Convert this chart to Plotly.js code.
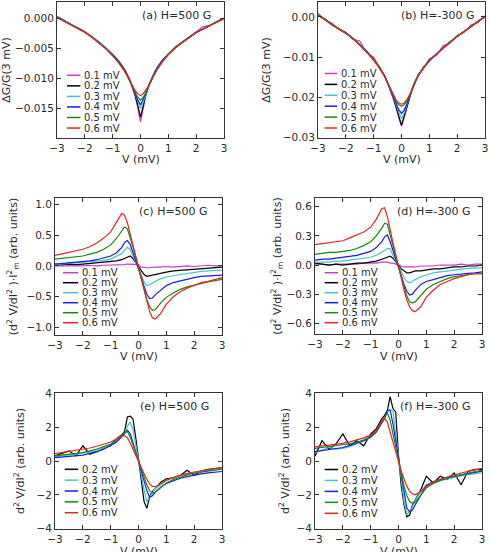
<!DOCTYPE html>
<html>
<head>
<meta charset="utf-8">
<script src="https://cdn.plot.ly/plotly-3.0.1.min.js"></script>
<style>html,body{margin:0;padding:0;background:#fff;}#chart{width:490px;height:552px;}</style>
</head>
<body>
<div id="chart"></div>
<script>
// Bias voltage grid (mV)
const V = [-3,-2.75,-2.5,-2.25,-2,-1.75,-1.5,-1.25,-1,-0.8,-0.6,-0.5,-0.4,-0.3,-0.2,-0.1,0,0.1,0.2,0.3,0.4,0.5,0.6,0.8,1,1.25,1.5,1.75,2,2.25,2.5,2.75,3];

const labels6 = ['0.1 mV','0.2 mV','0.3 mV','0.4 mV','0.5 mV','0.6 mV'];
const labels5 = ['0.2 mV','0.3 mV','0.4 mV','0.5 mV','0.6 mV'];
const panelTitles = ['(a) H=500 G','(b) H=-300 G','(c) H=500 G','(d) H=-300 G','(e) H=500 G','(f) H=-300 G'];
const xTitle = 'V (mV)';

// (a) ΔG/G(3 mV), H=500 G
const a_m = [0.0004,-0.0002,-0.0010,-0.0015,-0.0022,-0.0031,-0.0038,-0.0049,-0.0061,-0.0070,-0.0082,-0.0090,-0.0101,-0.0113,-0.0128,-0.0148,-0.0172,-0.0149,-0.0127,-0.0112,-0.0100,-0.0091,-0.0081,-0.0068,-0.0059,-0.0047,-0.0039,-0.0030,-0.0022,-0.0013,-0.0011,-0.0004,0.0001];
const a_k = [0.0003,-0.0003,-0.0010,-0.0016,-0.0022,-0.0030,-0.0039,-0.0049,-0.0060,-0.0070,-0.0083,-0.0091,-0.0101,-0.0112,-0.0126,-0.0144,-0.0164,-0.0145,-0.0125,-0.0111,-0.0100,-0.0090,-0.0082,-0.0069,-0.0059,-0.0048,-0.0039,-0.0031,-0.0023,-0.0017,-0.0011,-0.0005,0.0001];
const a_c = [0.0004,-0.0002,-0.0009,-0.0016,-0.0022,-0.0030,-0.0038,-0.0048,-0.0060,-0.0070,-0.0083,-0.0091,-0.0101,-0.0112,-0.0125,-0.0138,-0.0150,-0.0139,-0.0125,-0.0111,-0.0100,-0.0090,-0.0082,-0.0069,-0.0059,-0.0048,-0.0039,-0.0031,-0.0023,-0.0017,-0.0011,-0.0005,0.0001];
const a_b = [0.0003,-0.0003,-0.0010,-0.0016,-0.0022,-0.0030,-0.0039,-0.0049,-0.0060,-0.0070,-0.0083,-0.0091,-0.0101,-0.0112,-0.0124,-0.0135,-0.0144,-0.0135,-0.0124,-0.0111,-0.0100,-0.0090,-0.0082,-0.0069,-0.0059,-0.0048,-0.0039,-0.0031,-0.0023,-0.0017,-0.0011,-0.0005,0.0001];
const a_g = [0.0003,-0.0003,-0.0010,-0.0016,-0.0022,-0.0030,-0.0039,-0.0049,-0.0061,-0.0071,-0.0084,-0.0092,-0.0102,-0.0112,-0.0122,-0.0131,-0.0136,-0.0131,-0.0122,-0.0111,-0.0101,-0.0091,-0.0083,-0.0070,-0.0059,-0.0048,-0.0039,-0.0031,-0.0023,-0.0017,-0.0011,-0.0005,0.0001];
const a_r = [0.0002,-0.0004,-0.0011,-0.0017,-0.0023,-0.0031,-0.0040,-0.0050,-0.0062,-0.0073,-0.0086,-0.0094,-0.0103,-0.0112,-0.0119,-0.0125,-0.0128,-0.0125,-0.0119,-0.0111,-0.0102,-0.0093,-0.0085,-0.0071,-0.0060,-0.0049,-0.0040,-0.0031,-0.0023,-0.0017,-0.0011,-0.0005,0.0000];

// (b) ΔG/G(3 mV), H=-300 G
const b_m = [0.0009,-0.0008,-0.0016,-0.0031,-0.0038,-0.0056,-0.0060,-0.0089,-0.0100,-0.0126,-0.0145,-0.0164,-0.0182,-0.0200,-0.0223,-0.0250,-0.0272,-0.0250,-0.0222,-0.0198,-0.0175,-0.0161,-0.0143,-0.0128,-0.0104,-0.0096,-0.0072,-0.0065,-0.0046,-0.0039,-0.0020,-0.0014,0.0003];
const b_k = [0.0004,-0.0006,-0.0019,-0.0029,-0.0040,-0.0053,-0.0069,-0.0086,-0.0106,-0.0124,-0.0148,-0.0163,-0.0180,-0.0199,-0.0220,-0.0246,-0.0269,-0.0246,-0.0220,-0.0196,-0.0176,-0.0160,-0.0146,-0.0125,-0.0109,-0.0092,-0.0077,-0.0062,-0.0048,-0.0036,-0.0024,-0.0012,0.0001];
const b_c = [0.0004,-0.0007,-0.0019,-0.0029,-0.0041,-0.0053,-0.0069,-0.0086,-0.0106,-0.0124,-0.0148,-0.0163,-0.0180,-0.0199,-0.0218,-0.0238,-0.0253,-0.0238,-0.0216,-0.0196,-0.0176,-0.0160,-0.0146,-0.0125,-0.0109,-0.0092,-0.0077,-0.0062,-0.0048,-0.0036,-0.0024,-0.0012,0.0001];
const b_b = [0.0004,-0.0006,-0.0019,-0.0029,-0.0040,-0.0053,-0.0069,-0.0086,-0.0106,-0.0124,-0.0148,-0.0163,-0.0180,-0.0198,-0.0214,-0.0230,-0.0240,-0.0231,-0.0215,-0.0195,-0.0176,-0.0160,-0.0146,-0.0125,-0.0109,-0.0092,-0.0077,-0.0062,-0.0048,-0.0036,-0.0024,-0.0012,0.0001];
const b_g = [0.0004,-0.0006,-0.0019,-0.0029,-0.0040,-0.0053,-0.0069,-0.0086,-0.0106,-0.0124,-0.0148,-0.0163,-0.0180,-0.0196,-0.0208,-0.0218,-0.0222,-0.0218,-0.0208,-0.0194,-0.0176,-0.0160,-0.0146,-0.0125,-0.0109,-0.0092,-0.0077,-0.0062,-0.0048,-0.0036,-0.0024,-0.0012,0.0001];
const b_r = [0.0003,-0.0007,-0.0020,-0.0030,-0.0041,-0.0054,-0.0070,-0.0088,-0.0108,-0.0127,-0.0150,-0.0164,-0.0180,-0.0195,-0.0206,-0.0214,-0.0217,-0.0214,-0.0205,-0.0192,-0.0176,-0.0162,-0.0147,-0.0126,-0.0110,-0.0093,-0.0078,-0.0063,-0.0049,-0.0037,-0.0025,-0.0013,0.0000];

// (c) (d²V/dI²)·Im², H=500 G
const c_m = [0.00,0.00,-0.01,0.00,0.00,0.01,0.00,0.01,0.01,0.02,0.02,0.02,0.03,0.03,0.03,0.03,0.02,-0.02,-0.03,-0.03,-0.03,-0.02,-0.02,-0.02,-0.01,-0.02,-0.01,0.00,-0.01,0.00,0.01,0.00,0.00];
const c_k = [0.03,0.02,0.03,0.02,0.03,0.04,0.04,0.05,0.06,0.08,0.10,0.12,0.14,0.16,0.12,0.06,0.00,-0.08,-0.14,-0.17,-0.16,-0.14,-0.13,-0.11,-0.10,-0.08,-0.07,-0.06,-0.05,-0.04,-0.03,-0.03,-0.02];
const c_c = [0.02,0.03,0.03,0.04,0.05,0.06,0.07,0.09,0.11,0.15,0.20,0.25,0.30,0.27,0.17,0.07,-0.03,-0.15,-0.26,-0.32,-0.31,-0.28,-0.25,-0.21,-0.18,-0.16,-0.14,-0.12,-0.10,-0.09,-0.08,-0.07,-0.07];
const c_b = [0.03,0.04,0.04,0.05,0.06,0.08,0.10,0.13,0.16,0.21,0.30,0.38,0.41,0.35,0.22,0.09,-0.03,-0.18,-0.33,-0.46,-0.53,-0.52,-0.47,-0.39,-0.32,-0.27,-0.24,-0.21,-0.19,-0.17,-0.16,-0.15,-0.15];
const c_g = [0.11,0.12,0.14,0.15,0.16,0.19,0.22,0.27,0.34,0.44,0.56,0.63,0.60,0.47,0.31,0.14,-0.02,-0.20,-0.38,-0.55,-0.66,-0.72,-0.71,-0.60,-0.51,-0.44,-0.38,-0.34,-0.31,-0.28,-0.26,-0.24,-0.22];
const c_r = [0.17,0.20,0.22,0.245,0.27,0.31,0.37,0.45,0.55,0.70,0.85,0.82,0.70,0.52,0.34,0.16,-0.02,-0.21,-0.40,-0.58,-0.74,-0.84,-0.86,-0.77,-0.62,-0.50,-0.42,-0.36,-0.31,-0.27,-0.25,-0.22,-0.19];

// (d) (d²V/dI²)·Im², H=-300 G
const d_m = [0.01,0.01,0.00,0.01,0.01,0.01,0.01,0.02,0.02,0.02,0.03,0.03,0.03,0.02,0.02,0.01,0.00,-0.01,-0.02,-0.02,-0.02,-0.02,-0.02,-0.01,-0.01,-0.01,0.00,0.00,0.00,0.01,0.00,0.01,0.01];
const d_k = [0.02,0.01,0.00,0.01,0.00,0.01,0.02,0.02,0.03,0.04,0.06,0.07,0.08,0.09,0.07,0.04,0.00,-0.04,-0.06,-0.08,-0.08,-0.07,-0.06,-0.06,-0.05,-0.04,-0.04,-0.03,-0.02,-0.02,-0.01,-0.01,0.00];
const d_c = [0.03,0.03,0.03,0.04,0.04,0.05,0.06,0.07,0.08,0.10,0.13,0.15,0.17,0.17,0.10,0.05,-0.01,-0.07,-0.13,-0.17,-0.18,-0.17,-0.15,-0.12,-0.10,-0.08,-0.07,-0.06,-0.05,-0.04,-0.035,-0.03,-0.03];
const d_b = [0.05,0.06,0.06,0.07,0.075,0.09,0.10,0.12,0.14,0.18,0.24,0.29,0.31,0.24,0.15,0.07,-0.01,-0.10,-0.20,-0.27,-0.31,-0.30,-0.26,-0.20,-0.17,-0.15,-0.13,-0.11,-0.10,-0.09,-0.085,-0.08,-0.07];
const d_g = [0.11,0.12,0.13,0.13,0.14,0.15,0.17,0.20,0.24,0.30,0.38,0.43,0.42,0.30,0.19,0.09,-0.01,-0.12,-0.24,-0.32,-0.38,-0.39,-0.38,-0.31,-0.25,-0.20,-0.17,-0.14,-0.12,-0.11,-0.10,-0.09,-0.09];
const d_r = [0.21,0.22,0.23,0.24,0.25,0.28,0.31,0.34,0.39,0.47,0.58,0.59,0.50,0.35,0.23,0.11,-0.02,-0.14,-0.26,-0.36,-0.43,-0.47,-0.48,-0.43,-0.33,-0.26,-0.20,-0.17,-0.14,-0.12,-0.10,-0.09,-0.09];

// (e) d²V/dI², H=500 G
const e_k = [0.30,0.45,0.60,0.30,0.90,0.40,0.55,0.75,0.90,1.30,1.55,1.75,2.60,2.65,2.50,1.40,0.10,-1.20,-2.40,-2.80,-2.10,-1.80,-1.65,-1.25,-1.05,-1.00,-0.85,-0.55,-0.85,-0.60,-0.50,-0.45,-0.40];
const e_c = [0.25,0.30,0.35,0.40,0.45,0.52,0.60,0.75,0.95,1.12,1.40,1.62,2.05,2.30,1.85,0.95,0.10,-0.80,-1.70,-2.40,-2.12,-1.82,-1.62,-1.40,-1.15,-1.00,-0.86,-0.78,-0.70,-0.62,-0.55,-0.50,-0.45];
const e_b = [0.20,0.24,0.28,0.31,0.35,0.45,0.55,0.70,0.90,1.10,1.45,1.65,1.82,1.62,1.12,0.56,0.00,-0.60,-1.20,-1.75,-2.15,-2.05,-1.85,-1.55,-1.32,-1.15,-1.02,-0.92,-0.83,-0.76,-0.70,-0.66,-0.62];
const e_g = [0.30,0.35,0.40,0.45,0.50,0.60,0.70,0.85,1.00,1.22,1.55,1.72,1.74,1.42,0.97,0.50,0.00,-0.50,-0.97,-1.42,-1.75,-1.90,-1.85,-1.55,-1.30,-1.10,-0.95,-0.82,-0.72,-0.65,-0.58,-0.52,-0.48];
const e_r = [0.44,0.50,0.56,0.61,0.67,0.77,0.87,0.98,1.12,1.30,1.50,1.50,1.38,1.08,0.70,0.32,-0.05,-0.40,-0.75,-1.08,-1.35,-1.50,-1.52,-1.34,-1.14,-0.97,-0.84,-0.73,-0.65,-0.58,-0.50,-0.44,-0.38];

// (f) d²V/dI², H=-300 G
const f_k = [0.30,1.20,0.70,1.00,1.60,0.90,1.20,0.90,1.60,1.90,2.50,2.70,3.00,3.80,3.10,2.90,0.30,-1.50,-2.60,-3.30,-3.20,-2.60,-2.30,-1.70,-0.90,-1.30,-0.90,-1.10,-0.70,-1.40,-0.60,-0.50,-0.50];
const f_c = [0.50,0.65,0.80,0.70,0.75,0.85,1.00,1.18,1.40,1.70,2.30,2.50,2.90,3.05,2.95,1.60,0.30,-1.20,-2.40,-3.15,-3.00,-2.70,-2.30,-1.80,-1.40,-1.25,-1.15,-1.05,-0.95,-0.88,-0.80,-0.75,-0.70];
const f_b = [0.55,0.62,0.68,0.74,0.80,0.92,1.05,1.20,1.40,1.70,2.25,2.50,3.00,3.00,2.20,1.20,0.10,-1.00,-2.00,-2.80,-3.00,-2.90,-2.60,-2.00,-1.45,-1.25,-1.10,-1.00,-0.90,-0.82,-0.75,-0.68,-0.60];
const f_g = [0.75,0.80,0.85,0.90,0.95,1.02,1.10,1.25,1.45,1.75,2.35,2.60,2.85,2.40,1.60,0.80,0.00,-0.80,-1.50,-2.05,-2.40,-2.50,-2.45,-2.00,-1.60,-1.33,-1.15,-1.00,-0.90,-0.80,-0.70,-0.62,-0.55];
const f_r = [0.84,0.88,0.93,0.98,1.04,1.13,1.24,1.37,1.53,1.80,2.35,2.50,2.30,1.75,1.15,0.55,-0.04,-0.62,-1.10,-1.50,-1.78,-1.94,-2.00,-1.80,-1.50,-1.25,-1.08,-0.94,-0.82,-0.71,-0.60,-0.52,-0.43];

const col6 = ['#c83cc8','#000000','#3cc8c8','#1a1aee','#138a13','#ee2020'];
const col5 = col6.slice(1);

const panels = [
  {series:[a_m,a_k,a_c,a_b,a_g,a_r], labels:labels6, colors:col6},
  {series:[b_m,b_k,b_c,b_b,b_g,b_r], labels:labels6, colors:col6},
  {series:[c_m,c_k,c_c,c_b,c_g,c_r], labels:labels6, colors:col6},
  {series:[d_m,d_k,d_c,d_b,d_g,d_r], labels:labels6, colors:col6},
  {series:[e_k,e_c,e_b,e_g,e_r], labels:labels5, colors:col5},
  {series:[f_k,f_c,f_b,f_g,f_r], labels:labels5, colors:col5}
];

// layout geometry (pixels in a 490x552 page)
const W = 490, H = 552;
const boxes = [
  {l:57, r:224, t:2, b:138},
  {l:318, r:485, t:2, b:138},
  {l:55, r:222, t:198, b:335},
  {l:315, r:482, t:198, b:334},
  {l:55, r:222, t:393, b:529},
  {l:315, r:482, t:393, b:529}
];
const xTitleY = [160, 160, 356.5, 356.5, 551, 551];
const yRanges = [[-0.0199,0.0028],[-0.0301,0.0037],[-1.12,1.1],[-0.71,0.69],[-4.02,4.02],[-4.02,4.02]];
const yTicks = [[0,-0.005,-0.01,-0.015],[0,-0.01,-0.02,-0.03],[1,0.5,0,-0.5,-1],[0.6,0.3,0,-0.3,-0.6],[4,2,0,-2,-4],[4,2,0,-2,-4]];
const yFormats = ['.3f','.2f','.1f','.1f','d','d'];
const yTitles = ['ΔG/G(3 mV)','ΔG/G(3 mV)',
  '(d<sup>2</sup> V/dI<sup>2</sup> )·I<sup>2</sup><sub>m</sub> (arb. units)',
  '(d<sup>2</sup> V/dI<sup>2</sup> )·I<sup>2</sup><sub>m</sub> (arb. units)',
  'd<sup>2</sup> V/dI<sup>2</sup> (arb. units)','d<sup>2</sup> V/dI<sup>2</sup> (arb. units)'];
const yStandoff = [3,9,6,2,9,4];
const titleRight = [0.934,0.95,0.928,0.946,0.932,0.938];
const legendGeom = [
  {x0:0.06, x1:0.14, xt:0.15, y0:75.3, dy:10.55},
  {x0:0.04, x1:0.115, xt:0.125, y0:73.5, dy:10.9},
  {x0:0.048, x1:0.138, xt:0.148, y0:272.7, dy:10.0},
  {x0:0.058, x1:0.138, xt:0.148, y0:272.7, dy:10.0},
  {x0:0.058, x1:0.138, xt:0.148, y0:469.3, dy:10.85},
  {x0:0.058, x1:0.138, xt:0.148, y0:469.5, dy:10.95}
];

const FONT = 'DejaVu Sans, Liberation Sans, sans-serif';
const TXT = '#2a2a2a';
const traces = [];
const layout = {
  width: W, height: H,
  margin: {l:0, r:0, t:0, b:0},
  paper_bgcolor: '#fff', plot_bgcolor: '#fff',
  showlegend: false,
  font: {family: FONT, size: 11, color: TXT},
  shapes: [], annotations: []
};

panels.forEach((p, i) => {
  const n = i + 1;
  const xa = 'x' + (n === 1 ? '' : n), ya = 'y' + (n === 1 ? '' : n);
  const xk = 'xaxis' + (n === 1 ? '' : n), yk = 'yaxis' + (n === 1 ? '' : n);
  const bx = boxes[i];
  p.series.forEach((ys, j) => {
    traces.push({x: V, y: ys, xaxis: xa, yaxis: ya, type: 'scatter', mode: 'lines',
      name: p.labels[j], line: {color: p.colors[j], width: 1.2}, hoverinfo: 'skip'});
  });
  const common = {
    showline: true, mirror: 'ticks', linecolor: '#333', linewidth: 1,
    ticks: 'inside', ticklen: 4, tickwidth: 1, tickcolor: '#333',
    showgrid: false, zeroline: false, automargin: false,
    tickfont: {family: FONT, size: 10.5, color: TXT}
  };
  layout[xk] = Object.assign({}, common, {
    domain: [bx.l / W, bx.r / W], anchor: ya, range: [-3.001, 3.001],
    tickmode: 'array', tickvals: [-3,-2,-1,0,1,2,3]
  });
  layout[yk] = Object.assign({}, common, {
    domain: [1 - bx.b / H, 1 - bx.t / H], anchor: xa, range: yRanges[i],
    tickmode: 'array', tickvals: yTicks[i], tickformat: yFormats[i],
    title: {text: yTitles[i], font: {family: FONT, size: 11, color: TXT}, standoff: yStandoff[i]}
  });
  // x-axis title
  layout.annotations.push({
    xref: xa + ' domain', yref: 'paper', x: 0.5, y: 1 - xTitleY[i] / H,
    xanchor: 'center', yanchor: 'middle', showarrow: false,
    text: xTitle, font: {family: FONT, size: 11, color: TXT}
  });
  layout.annotations.push({
    xref: xa + ' domain', yref: ya + ' domain', x: titleRight[i], y: 0.9,
    xanchor: 'right', yanchor: 'middle', showarrow: false,
    text: panelTitles[i], font: {family: FONT, size: 11, color: TXT}
  });
  const lg = legendGeom[i];
  p.labels.forEach((lab, j) => {
    const py = lg.y0 + j * lg.dy;
    const yd = 1 - (py - bx.t) / (bx.b - bx.t);
    layout.shapes.push({type: 'line', xref: xa + ' domain', yref: ya + ' domain',
      x0: lg.x0, x1: lg.x1, y0: yd, y1: yd, line: {color: p.colors[j], width: 1.5}});
    layout.annotations.push({xref: xa + ' domain', yref: ya + ' domain', x: lg.xt, y: yd,
      xanchor: 'left', yanchor: 'middle', showarrow: false, text: lab,
      font: {family: FONT, size: 10, color: TXT}});
  });
});

Plotly.newPlot('chart', traces, layout, {staticPlot: true, displayModeBar: false});
</script>
</body>
</html>
